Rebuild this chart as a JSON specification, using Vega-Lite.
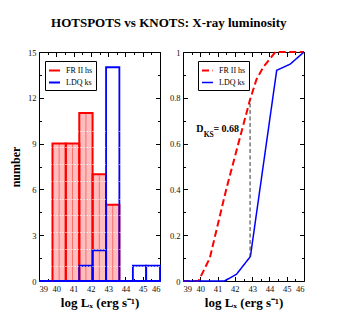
{
  "$schema": "https://vega.github.io/schema/vega-lite/v6.json",
  "padding": {"left": 9, "top": 16, "right": 5, "bottom": 5},
  "background": "white",
  "title": {"text": "HOTSPOTS vs KNOTS: X-ray luminosity", "font": "Liberation Serif", "fontSize": 13, "fontWeight": "bold", "color": "#000", "anchor": "middle", "frame": "bounds", "dx": 10, "offset": 18},
  "bounds": "flush",
  "spacing": 23,
  "datasets": {
    "hist": [
      {"series": "FR II hs", "x0": 39.78, "x1": 40.55, "mid": 40.165, "count": 9},
      {"series": "FR II hs", "x0": 40.55, "x1": 41.33, "mid": 40.94, "count": 9},
      {"series": "FR II hs", "x0": 41.33, "x1": 42.1, "mid": 41.715, "count": 11},
      {"series": "FR II hs", "x0": 42.1, "x1": 42.88, "mid": 42.49, "count": 7},
      {"series": "FR II hs", "x0": 42.88, "x1": 43.65, "mid": 43.265, "count": 5},
      {"series": "FR II hs", "x0": 43.65, "x1": 44.43, "mid": 44.04, "count": 0},
      {"series": "FR II hs", "x0": 44.43, "x1": 45.2, "mid": 44.815, "count": 0},
      {"series": "FR II hs", "x0": 45.2, "x1": 46, "mid": 45.6, "count": 0},
      {"series": "LDQ ks", "x0": 39, "x1": 39.78, "mid": 39.39, "count": 0},
      {"series": "LDQ ks", "x0": 39.78, "x1": 40.55, "mid": 40.165, "count": 0},
      {"series": "LDQ ks", "x0": 40.55, "x1": 41.33, "mid": 40.94, "count": 0},
      {"series": "LDQ ks", "x0": 41.33, "x1": 42.1, "mid": 41.715, "count": 1},
      {"series": "LDQ ks", "x0": 42.1, "x1": 42.88, "mid": 42.49, "count": 2},
      {"series": "LDQ ks", "x0": 42.88, "x1": 43.65, "mid": 43.265, "count": 14},
      {"series": "LDQ ks", "x0": 43.65, "x1": 44.43, "mid": 44.04, "count": 0},
      {"series": "LDQ ks", "x0": 44.43, "x1": 45.2, "mid": 44.815, "count": 1},
      {"series": "LDQ ks", "x0": 45.2, "x1": 46, "mid": 45.6, "count": 1}
    ],
    "cdf": [
      {"series": "FR II hs", "x": 39, "y": 0},
      {"series": "FR II hs", "x": 39.9, "y": 0},
      {"series": "FR II hs", "x": 40.55, "y": 0.1},
      {"series": "FR II hs", "x": 41.5, "y": 0.4},
      {"series": "FR II hs", "x": 42.87, "y": 0.79},
      {"series": "FR II hs", "x": 43.25, "y": 0.88},
      {"series": "FR II hs", "x": 43.65, "y": 0.935},
      {"series": "FR II hs", "x": 44.35, "y": 1},
      {"series": "FR II hs", "x": 46, "y": 1},
      {"series": "LDQ ks", "x": 39, "y": 0},
      {"series": "LDQ ks", "x": 41.4, "y": 0},
      {"series": "LDQ ks", "x": 42.1, "y": 0.03},
      {"series": "LDQ ks", "x": 42.9, "y": 0.107},
      {"series": "LDQ ks", "x": 44.42, "y": 0.92},
      {"series": "LDQ ks", "x": 45.2, "y": 0.947},
      {"series": "LDQ ks", "x": 46, "y": 1}
    ],
    "ks": [{"x": 42.88, "y": 0.105, "y2": 0.79}],
    "dlabel": [
      {"x": 39.76, "y": 0.652, "t": "D"},
      {"x": 40.76, "y": 0.652, "t": "= 0.68"}
    ],
    "dsub": [{"x": 40.2, "y": 0.628, "t": "KS"}]
  },
  "hconcat": [
    {
      "width": 121,
      "height": 229,
      "data": {"name": "hist"},
      "resolve": {"axis": {"x": "independent", "y": "independent"}},
      "layer": [
        {
          "transform": [{"filter": "datum.series === 'FR II hs'"}],
          "mark": {"type": "rect", "fill": "#ffbdbd", "strokeWidth": 0},
          "encoding": {
            "x": {"field": "x0", "type": "quantitative", "scale": {"domain": [39, 46], "nice": false, "zero": false},
              "axis": {"orient": "bottom", "offset": 0, "values": [39, 40, 41, 42, 43, 44, 45, 46], "format": "d", "tickSize": -4.5, "labelPadding": 7.5, "title": "log Lₓ (erg s⁻¹)", "titlePadding": 4}},
            "x2": {"field": "x1"},
            "y": {"field": "count", "type": "quantitative", "scale": {"domain": [0, 15], "nice": false, "zero": true},
              "axis": {"orient": "left", "offset": 0, "values": [0, 3, 6, 9, 12, 15], "tickSize": -4.5, "labelPadding": 7.5, "title": "number", "titleFontSize": 12, "titlePadding": 5}},
            "y2": {"datum": 0}
          }
        },
        {
          "transform": [{"filter": "datum.series === 'FR II hs' && datum.count > 0"}],
          "mark": {"type": "rule", "color": "#f04040", "strokeWidth": 0.8, "opacity": 0.8},
          "encoding": {
            "x": {"field": "mid", "type": "quantitative",
              "axis": {"orient": "bottom", "offset": 0, "values": [39.5, 40.5, 41.5, 42.5, 43.5, 44.5, 45.5], "tickSize": -2.5, "labels": false, "title": null}},
            "y": {"field": "count", "type": "quantitative",
              "axis": {"orient": "left", "offset": 0, "values": [1.5, 4.5, 7.5, 10.5, 13.5], "tickSize": -2.5, "labels": false, "title": null}},
            "y2": {"datum": 0}
          }
        },
        {
          "transform": [{"filter": "datum.series === 'FR II hs'"}],
          "mark": {"type": "rect", "fill": null, "strokeWidth": 2},
          "encoding": {
            "x": {"field": "x0", "type": "quantitative",
              "axis": {"orient": "top", "offset": 0, "values": [39, 40, 41, 42, 43, 44, 45, 46], "tickSize": -4.5, "labels": false, "title": null}},
            "x2": {"field": "x1"},
            "y": {"field": "count", "type": "quantitative",
              "axis": {"orient": "right", "offset": 0, "values": [0, 3, 6, 9, 12, 15], "tickSize": -4.5, "labels": false, "title": null}},
            "y2": {"datum": 0},
            "stroke": {"field": "series", "type": "nominal", "scale": {"domain": ["FR II hs", "LDQ ks"], "range": ["#ff0000", "#0000ff"]},
              "legend": {"orient": "none", "legendX": 6, "legendY": 9, "title": null, "strokeColor": "#000", "fillColor": "#fff", "padding": 3, "symbolType": "stroke", "symbolSize": 121, "symbolStrokeWidth": 2, "labelFont": "Liberation Serif", "labelFontSize": 8, "labelOffset": 5, "rowPadding": 1}},
            "strokeDash": {"field": "series", "type": "nominal", "scale": {"domain": ["FR II hs", "LDQ ks"], "range": [[6, 3], [1, 0]]},
              "legend": {"orient": "none", "legendX": 6, "legendY": 9, "title": null, "strokeColor": "#000", "fillColor": "#fff", "padding": 3, "symbolType": "stroke", "symbolSize": 121, "symbolStrokeWidth": 2, "labelFont": "Liberation Serif", "labelFontSize": 8, "labelOffset": 5, "rowPadding": 1}}
          }
        },
        {
          "transform": [{"filter": "datum.series === 'LDQ ks'"}],
          "mark": {"type": "rect", "fill": null, "strokeWidth": 1.8},
          "encoding": {
            "x": {"field": "x0", "type": "quantitative",
              "axis": {"orient": "top", "offset": 0, "values": [39.5, 40.5, 41.5, 42.5, 43.5, 44.5, 45.5], "tickSize": -2.5, "labels": false, "title": null}},
            "x2": {"field": "x1"},
            "y": {"field": "count", "type": "quantitative",
              "axis": {"orient": "right", "offset": 0, "values": [1.5, 4.5, 7.5, 10.5, 13.5], "tickSize": -2.5, "labels": false, "title": null}},
            "y2": {"datum": 0},
            "stroke": {"field": "series", "type": "nominal"},
            "strokeDash": {"field": "series", "type": "nominal"}
          }
        },
        {
          "transform": [{"filter": "datum.series === 'FR II hs' && datum.count > 0"}],
          "mark": {"type": "rule", "opacity": 0},
          "encoding": {
            "x": {"field": "mid", "type": "quantitative", "axis": null},
            "y": {"field": "count", "type": "quantitative",
              "axis": {"orient": "left", "offset": 0, "values": [1, 2.1, 3.2, 4.3, 5.4, 6.55, 7.65, 8.75, 9.85], "grid": true, "gridColor": "#ffffff", "gridDash": [1, 2], "gridDashOffset": 1, "gridWidth": 1, "ticks": false, "labels": false, "title": null, "zindex": 1}}
          }
        }
      ]
    },
    {
      "width": 121,
      "height": 229,
      "resolve": {"axis": {"x": "independent", "y": "independent"}},
      "layer": [
        {
          "data": {"name": "cdf"},
          "mark": {"type": "line", "clip": false},
          "encoding": {
            "x": {"field": "x", "type": "quantitative", "scale": {"domain": [39, 46], "nice": false, "zero": false},
              "axis": {"orient": "bottom", "offset": 0, "values": [39, 40, 41, 42, 43, 44, 45, 46], "format": "d", "tickSize": -4.5, "labelPadding": 7.5, "title": "log Lₓ (erg s⁻¹)", "titlePadding": 4}},
            "y": {"field": "y", "type": "quantitative", "scale": {"domain": [0, 1], "nice": false},
              "axis": {"orient": "left", "offset": 0, "values": [0, 0.2, 0.4, 0.6, 0.8, 1], "format": "~g", "tickSize": -4.5, "labelPadding": 7.5, "title": null}},
            "stroke": {"field": "series", "type": "nominal", "scale": {"domain": ["FR II hs", "LDQ ks"], "range": ["#ff0000", "#0000ff"]},
              "legend": {"orient": "none", "legendX": 15, "legendY": 9, "title": null, "strokeColor": "#000", "fillColor": "#fff", "padding": 3, "symbolType": "stroke", "symbolSize": 121, "symbolStrokeWidth": 2, "labelFont": "Liberation Serif", "labelFontSize": 8, "labelOffset": 5, "rowPadding": 1}},
            "strokeDash": {"field": "series", "type": "nominal", "scale": {"domain": ["FR II hs", "LDQ ks"], "range": [[7, 3.5], [1, 0]]},
              "legend": {"orient": "none", "legendX": 15, "legendY": 9, "title": null, "strokeColor": "#000", "fillColor": "#fff", "padding": 3, "symbolType": "stroke", "symbolSize": 121, "symbolStrokeWidth": 2, "labelFont": "Liberation Serif", "labelFontSize": 8, "labelOffset": 5, "rowPadding": 1}},
            "strokeWidth": {"field": "series", "type": "nominal", "scale": {"domain": ["FR II hs", "LDQ ks"], "range": [2, 1.5]}, "legend": null}
          }
        },
        {
          "data": {"name": "ks"},
          "mark": {"type": "rule", "color": "#333", "strokeWidth": 1, "strokeDash": [4, 2.5]},
          "encoding": {
            "x": {"field": "x", "type": "quantitative",
              "axis": {"orient": "bottom", "offset": 0, "values": [39.5, 40.5, 41.5, 42.5, 43.5, 44.5, 45.5], "tickSize": -2.5, "labels": false, "title": null}},
            "y": {"field": "y", "type": "quantitative",
              "axis": {"orient": "left", "offset": 0, "values": [0.1, 0.3, 0.5, 0.7, 0.9], "tickSize": -2.5, "labels": false, "title": null}},
            "y2": {"field": "y2"}
          }
        },
        {
          "data": {"name": "dlabel"},
          "mark": {"type": "text", "align": "left", "baseline": "alphabetic", "font": "Liberation Serif", "fontSize": 10, "fontWeight": "bold", "color": "#000"},
          "encoding": {
            "x": {"field": "x", "type": "quantitative",
              "axis": {"orient": "top", "offset": 0, "values": [39, 40, 41, 42, 43, 44, 45, 46], "tickSize": -4.5, "labels": false, "title": null}},
            "y": {"field": "y", "type": "quantitative",
              "axis": {"orient": "right", "offset": 0, "values": [0, 0.2, 0.4, 0.6, 0.8, 1], "tickSize": -4.5, "labels": false, "title": null}},
            "text": {"field": "t"}
          }
        },
        {
          "data": {"name": "dsub"},
          "mark": {"type": "text", "align": "left", "baseline": "alphabetic", "font": "Liberation Serif", "fontSize": 7.5, "fontWeight": "bold", "color": "#000"},
          "encoding": {
            "x": {"field": "x", "type": "quantitative",
              "axis": {"orient": "top", "offset": 0, "values": [39.5, 40.5, 41.5, 42.5, 43.5, 44.5, 45.5], "tickSize": -2.5, "labels": false, "title": null}},
            "y": {"field": "y", "type": "quantitative",
              "axis": {"orient": "right", "offset": 0, "values": [0.1, 0.3, 0.5, 0.7, 0.9], "tickSize": -2.5, "labels": false, "title": null}},
            "text": {"field": "t"}
          }
        }
      ]
    }
  ],
  "resolve": {
    "scale": {"stroke": "independent", "strokeDash": "independent", "strokeWidth": "independent"},
    "legend": {"stroke": "independent", "strokeDash": "independent"}
  },
  "config": {
    "view": {"stroke": "#000", "strokeWidth": 1},
    "font": "Liberation Serif",
    "axis": {
      "domain": false,
      "grid": false,
      "tickColor": "#000",
      "tickWidth": 1,
      "labelFont": "Liberation Serif",
      "labelFontSize": 8.5,
      "labelColor": "#111",
      "titleFont": "Liberation Serif",
      "titleFontSize": 13,
      "titleFontWeight": "bold",
      "titleColor": "#000"
    }
  }
}
